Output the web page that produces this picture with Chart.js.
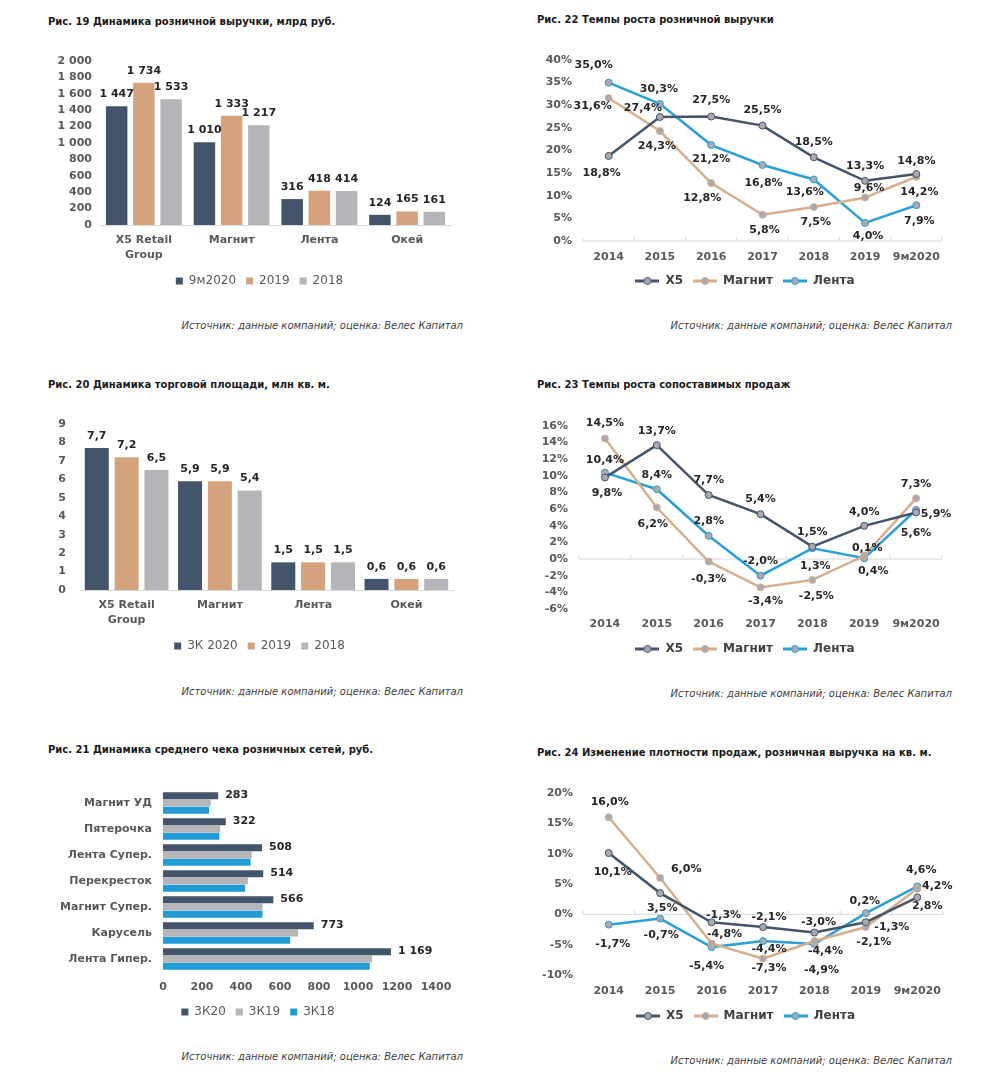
<!DOCTYPE html>
<html>
<head>
<meta charset="utf-8">
<script src="https://cdn.jsdelivr.net/npm/chart.js@4.4.0/dist/chart.umd.min.js"></script>
<style>
body { margin: 0; background: #fff; width: 1004px; height: 1080px; position: relative; font-family: "DejaVu Sans", sans-serif; }
.ttl { position: absolute; font-weight: bold; font-size: 10px; line-height: 12px; color: #1a1a1a; white-space: nowrap; }
.src { position: absolute; font-style: italic; font-size: 10px; line-height: 12px; color: #404040; white-space: nowrap; }
.box { position: absolute; }
</style>
</head>
<body>
<div class="ttl" style="left:48px;top:16px">Рис. 19 Динамика розничной выручки, млрд руб.</div>
<div class="ttl" style="left:537px;top:14px">Рис. 22 Темпы роста розничной выручки</div>
<div class="ttl" style="left:48px;top:379px">Рис. 20 Динамика торговой площади, млн кв. м.</div>
<div class="ttl" style="left:537px;top:379px">Рис. 23 Темпы роста сопоставимых продаж</div>
<div class="ttl" style="left:48px;top:744px">Рис. 21 Динамика среднего чека розничных сетей, руб.</div>
<div class="ttl" style="left:537px;top:747px">Рис. 24 Изменение плотности продаж, розничная выручка на кв. м.</div>

<div class="box" style="left:40px;top:40px;width:430px;height:260px"><canvas id="c19"></canvas></div>
<div class="box" style="left:520px;top:40px;width:450px;height:260px"><canvas id="c22"></canvas></div>
<div class="box" style="left:40px;top:400px;width:430px;height:265px"><canvas id="c20"></canvas></div>
<div class="box" style="left:520px;top:400px;width:450px;height:265px"><canvas id="c23"></canvas></div>
<div class="box" style="left:40px;top:770px;width:430px;height:260px"><canvas id="c21"></canvas></div>
<div class="box" style="left:520px;top:770px;width:450px;height:263px"><canvas id="c24"></canvas></div>

<div class="src" style="right:541px;top:320px">Источник: данные компаний; оценка: Велес Капитал</div>
<div class="src" style="right:52px;top:320px">Источник: данные компаний; оценка: Велес Капитал</div>
<div class="src" style="right:541px;top:686px">Источник: данные компаний; оценка: Велес Капитал</div>
<div class="src" style="right:52px;top:688px">Источник: данные компаний; оценка: Велес Капитал</div>
<div class="src" style="right:541px;top:1051px">Источник: данные компаний; оценка: Велес Капитал</div>
<div class="src" style="right:52px;top:1055px">Источник: данные компаний; оценка: Велес Капитал</div>

<script>
// --- данные ---
const chains = [['X5 Retail', 'Group'], 'Магнит', 'Лента', 'Окей'];
const revenue9m2020 = [1447, 1010, 316, 124];
const revenue2019 = [1734, 1333, 418, 165];
const revenue2018 = [1533, 1217, 414, 161];

const area3q2020 = [7.7, 5.9, 1.5, 0.6];
const area2019 = [7.2, 5.9, 1.5, 0.6];
const area2018 = [6.5, 5.4, 1.5, 0.6];

const formats = ['Магнит УД', 'Пятерочка', 'Лента Супер.', 'Перекресток', 'Магнит Супер.', 'Карусель', 'Лента Гипер.'];
const check3q20 = [283, 322, 508, 514, 566, 773, 1169];
const check3q19 = [245, 293, 455, 435, 510, 693, 1072];
const check3q18 = [236, 289, 449, 421, 510, 652, 1060];

const years = ['2014', '2015', '2016', '2017', '2018', '2019', '9м2020'];
const revGrowthX5 = [18.8, 27.4, 27.5, 25.5, 18.5, 13.3, 14.8];
const revGrowthMagnit = [31.6, 24.3, 12.8, 5.8, 7.5, 9.6, 14.2];
const revGrowthLenta = [35.0, 30.3, 21.2, 16.8, 13.6, 4.0, 7.9];

const lflX5 = [9.8, 13.7, 7.7, 5.4, 1.5, 4.0, 5.6];
const lflMagnit = [14.5, 6.2, -0.3, -3.4, -2.5, 0.4, 7.3];
const lflLenta = [10.4, 8.4, 2.8, -2.0, 1.3, 0.1, 5.9];

const densX5 = [10.1, 3.5, -1.3, -2.1, -3.0, -1.3, 2.8];
const densMagnit = [16.0, 6.0, -4.8, -7.3, -4.4, -2.1, 4.2];
const densLenta = [-1.7, -0.7, -5.4, -4.4, -4.9, 0.2, 4.6];

// сдвиги подписей точек на линейных графиках (px)
const offs22 = [
  [[-7, 17], [-17, -9], [0, -16], [0, -15], [0, -15], [0, -15], [0, -13]],
  [[-16, 8], [-3, 15], [-9, 15], [2, 15], [2, 15], [4, -9], [3, 15]],
  [[-15, -17], [-1, -15], [0, 14], [1, 18], [-9, 13], [3, 13], [3, 16]]
];
const offs23 = [
  [[2, 16], [0, -14], [0, -15], [0, -15], [0, -14], [0, -14], [0, 21]],
  [[0, -15], [-4, 17], [0, 18], [5, 14], [4, 16], [9, 15], [0, -14]],
  [[0, -12], [0, -14], [0, -15], [0, -15], [3, 18], [3, -10], [20, 4]]
];
const offs24 = [
  [[4, 19], [2, 15], [12, -7], [6, -10], [4, -10], [26, 5], [10, 9]],
  [[1, -15], [26, -9], [13, -9], [6, 10], [11, 10], [8, 15], [20, -3]],
  [[4, 19], [1, 17], [-5, 19], [6, 8], [7, 26], [-1, -12], [4, -16]]
];

const NAVY = '#44546a', TAN = '#d4a27d', GREY = '#b4b4b9', BLUE = '#1f9bd6';
const LTAN = '#d6ae8c', LBLUE = '#2aa0d4';
const TICK = '#595959';

Chart.defaults.font.family = '"DejaVu Sans", sans-serif';
Chart.defaults.animation = false;

const spaced = v => String(v).replace(/\B(?=(\d{3})+(?!\d))/g, ' ');
const comma = v => v.toFixed(1).replace('.', ',');
const pct = v => comma(v) + '%';

function labelsPlugin(cfg) {
  return {
    id: 'valueLabels',
    afterDatasetsDraw(chart) {
      const ctx = chart.ctx;
      ctx.save();
      ctx.font = 'bold 11px "DejaVu Sans"';
      ctx.fillStyle = '#262626';
      ctx.textBaseline = 'middle';
      chart.data.datasets.forEach((ds, i) => {
        if (cfg.only != null && cfg.only !== i) return;
        chart.getDatasetMeta(i).data.forEach((el, j) => {
          const txt = cfg.format(ds.data[j]);
          let x = el.x, y = el.y;
          ctx.textAlign = 'center';
          if (cfg.mode === 'top') {
            y -= 12;
          } else if (cfg.mode === 'right') {
            ctx.textAlign = 'left';
            x += 7;
          } else {
            x += cfg.offsets[i][j][0];
            y += cfg.offsets[i][j][1];
          }
          ctx.fillText(txt, x, y);
        });
      });
      ctx.restore();
    }
  };
}

// сдвиг легенды по горизонтали
function legendShift(dx) {
  return {
    id: 'legendShift',
    afterLayout(chart) {
      chart.legend.left += dx;
      chart.legend.right += dx;
    }
  };
}

const zeroAxis = {
  id: 'zeroAxis',
  beforeDatasetsDraw(chart) {
    const { ctx, chartArea, scales } = chart;
    const y0 = scales.y.getPixelForValue(0);
    const n = chart.data.labels.length;
    ctx.save();
    ctx.strokeStyle = '#d9d9d9';
    ctx.lineWidth = 1;
    ctx.beginPath();
    ctx.moveTo(chartArea.left, y0);
    ctx.lineTo(chartArea.right, y0);
    for (let i = 0; i <= n; i++) {
      const xx = chartArea.left + (chartArea.right - chartArea.left) * i / n;
      ctx.moveTo(xx, y0);
      ctx.lineTo(xx, y0 - 4);
    }
    ctx.stroke();
    ctx.restore();
  }
};

const tickFont = { size: 11, weight: 'bold', lineHeight: 1.35 };
const noGrid = { display: false, drawTicks: false };

function fixW(w) { return s => { s.width = w; }; }
function fixH(h) { return s => { s.height = h; }; }

const barLegend = {
  position: 'bottom',
  labels: { boxWidth: 7, boxHeight: 7, padding: 10, color: TICK, font: { size: 12 } }
};

function legendIcon(color) {
  const c = document.createElement('canvas');
  c.width = 24; c.height = 10;
  const g = c.getContext('2d');
  g.strokeStyle = color; g.lineWidth = 3;
  g.beginPath(); g.moveTo(0, 5); g.lineTo(24, 5); g.stroke();
  g.fillStyle = '#a9a9af'; g.lineWidth = 1;
  g.beginPath(); g.arc(12, 5, 3.5, 0, Math.PI * 2); g.fill(); g.stroke();
  return c;
}
const lineIcons = [legendIcon(NAVY), legendIcon(LTAN), legendIcon(LBLUE)];

const lineLegend = {
  position: 'bottom',
  labels: {
    usePointStyle: true, pointStyleWidth: 24, boxHeight: 10, padding: 10,
    color: '#404040', font: { size: 12, weight: 'bold' },
    generateLabels(chart) {
      return chart.data.datasets.map((ds, i) => ({
        text: ds.label, pointStyle: lineIcons[i], fillStyle: ds.borderColor,
        strokeStyle: ds.borderColor, lineWidth: 0, hidden: false, datasetIndex: i, fontColor: '#404040'
      }));
    }
  }
};

function barChart(id, labels, sets, yMax, yStep, yFmt, yW, yPad, pad, catPct, barPct, shift) {
  new Chart(document.getElementById(id), {
    type: 'bar',
    data: {
      labels: labels,
      datasets: sets.map(s => ({
        label: s[0], data: s[1], backgroundColor: s[2],
        categoryPercentage: catPct, barPercentage: barPct
      }))
    },
    options: {
      maintainAspectRatio: false,
      layout: { padding: pad },
      plugins: { legend: barLegend, tooltip: { enabled: false } },
      scales: {
        x: {
          grid: noGrid,
          border: { color: '#d9d9d9' },
          ticks: { color: TICK, font: tickFont, padding: 8, maxRotation: 0, autoSkip: false },
          afterFit: fixH(40)
        },
        y: {
          min: 0, max: yMax,
          grid: noGrid,
          border: { display: false },
          ticks: { stepSize: yStep, color: TICK, font: tickFont, padding: yPad, autoSkip: false, callback: yFmt },
          afterFit: fixW(yW)
        }
      }
    },
    plugins: [labelsPlugin({ mode: 'top', format: sets.fmt }), legendShift(shift)]
  });
}

// Рис. 19
const sets19 = [['9м2020', revenue9m2020, NAVY], ['2019', revenue2019, TAN], ['2018', revenue2018, GREY]];
sets19.fmt = spaced;
barChart('c19', chains, sets19, 2000, 200, v => spaced(v), 60, 8,
  { top: 21, right: 19, bottom: 3, left: 0 }, 0.93, 0.79, 14);

// Рис. 20
const sets20 = [['3К 2020', area3q2020, NAVY], ['2019', area2019, TAN], ['2018', area2018, GREY]];
sets20.fmt = comma;
barChart('c20', chains, sets20, 9, 1, v => v, 40, 14,
  { top: 24, right: 17, bottom: 3, left: 0 }, 0.96, 0.805, 13);

// Рис. 21
new Chart(document.getElementById('c21'), {
  type: 'bar',
  data: {
    labels: formats,
    datasets: [
      { label: '3К20', data: check3q20, backgroundColor: NAVY },
      { label: '3К19', data: check3q19, backgroundColor: GREY },
      { label: '3К18', data: check3q18, backgroundColor: BLUE }
    ].map(d => Object.assign(d, { categoryPercentage: 0.85, barPercentage: 0.95 }))
  },
  options: {
    indexAxis: 'y',
    maintainAspectRatio: false,
    layout: { padding: { top: 20, right: 34, bottom: 2, left: 0 } },
    plugins: { legend: barLegend, tooltip: { enabled: false } },
    scales: {
      x: {
        min: 0, max: 1400,
        grid: noGrid,
        border: { display: false },
        ticks: { stepSize: 200, color: TICK, font: tickFont, padding: 8, maxRotation: 0, autoSkip: false, callback: v => String(v) },
        afterFit: fixH(24)
      },
      y: {
        grid: noGrid,
        border: { display: false },
        ticks: { color: TICK, font: tickFont, padding: 11, autoSkip: false },
        afterFit: fixW(123)
      }
    }
  },
  plugins: [labelsPlugin({ mode: 'right', only: 0, format: spaced }), legendShift(20)]
});

function lineChart(id, x5, magnit, lenta, yMin, yMax, yStep, yW, yPad, xH, xPad, pad, offsets) {
  const mk = (label, data, color) => ({
    label: label, data: data, borderColor: color, borderWidth: 2.5, tension: 0,
    pointRadius: 3.5, pointBorderWidth: 1, pointBackgroundColor: '#a9a9af', pointBorderColor: color
  });
  new Chart(document.getElementById(id), {
    type: 'line',
    data: {
      labels: years,
      datasets: [mk('X5', x5, NAVY), mk('Магнит', magnit, LTAN), mk('Лента', lenta, LBLUE)]
    },
    options: {
      maintainAspectRatio: false,
      layout: { padding: pad },
      plugins: { legend: lineLegend, tooltip: { enabled: false } },
      scales: {
        x: {
          offset: true,
          grid: noGrid,
          border: { display: false },
          ticks: { color: TICK, font: tickFont, padding: xPad, maxRotation: 0, autoSkip: false },
          afterFit: fixH(xH)
        },
        y: {
          min: yMin, max: yMax,
          grid: noGrid,
          border: { display: false },
          ticks: { stepSize: yStep, color: TICK, font: tickFont, padding: yPad, autoSkip: false, callback: v => v + '%' },
          afterFit: fixW(yW)
        }
      }
    },
    plugins: [zeroAxis, labelsPlugin({ mode: 'offset', offsets: offsets, format: pct }), legendShift(14)]
  });
}

// Рис. 22
lineChart('c22', revGrowthX5, revGrowthMagnit, revGrowthLenta, 0, 40, 5, 63, 11, 24, 9,
  { top: 20, right: 28, bottom: 3, left: 0 }, offs22);
// Рис. 23
lineChart('c23', lflX5, lflMagnit, lflLenta, -6, 16, 2, 59, 11, 24, 8,
  { top: 26, right: 28, bottom: 0, left: 0 }, offs23);
// Рис. 24
lineChart('c24', densX5, densMagnit, densLenta, -10, 20, 5, 63, 10, 25, 9,
  { top: 23, right: 27, bottom: 1, left: 0 }, offs24);
</script>
</body>
</html>
